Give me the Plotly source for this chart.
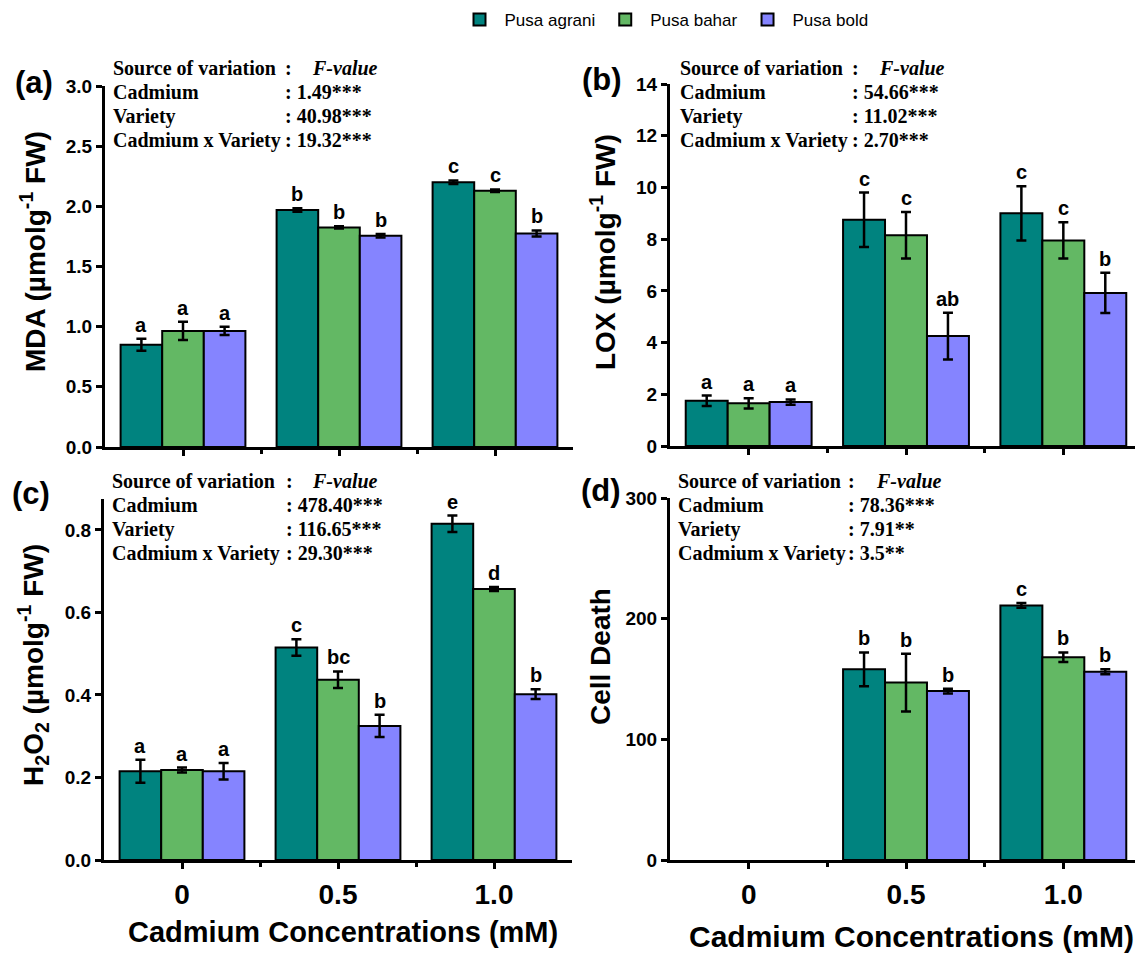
import plotly.graph_objects as go

W, H = 1143, 957

varieties = ["Pusa agrani", "Pusa bahar", "Pusa bold"]
colors = ["#00837F", "#63B864", "#8584FF"]
cd_labels = ["0", "0.5", "1.0"]
cd_pos = [0, 1, 2]

# Panel (a) MDA
mda = [[0.85, 1.97, 2.20], [0.965, 1.825, 2.13], [0.965, 1.755, 1.775]]
mda_err = [[0.05, 0.015, 0.015], [0.075, 0.01, 0.01], [0.035, 0.015, 0.025]]
mda_let = [["a", "b", "c"], ["a", "b", "c"], ["a", "b", "b"]]
# Panel (b) LOX
lox = [[1.75, 8.75, 9.0], [1.65, 8.15, 7.95], [1.7, 4.25, 5.92]]
lox_err = [[0.2, 1.05, 1.05], [0.2, 0.9, 0.7], [0.1, 0.9, 0.78]]
lox_let = [["a", "c", "c"], ["a", "c", "c"], ["a", "ab", "b"]]
# Panel (c) H2O2
h2o2 = [[0.215, 0.515, 0.815], [0.218, 0.437, 0.657], [0.215, 0.325, 0.402]]
h2o2_err = [[0.028, 0.02, 0.02], [0.006, 0.02, 0.005], [0.02, 0.027, 0.012]]
h2o2_let = [["a", "c", "e"], ["a", "bc", "d"], ["a", "b", "b"]]
# Panel (d) Cell death
cell = [[None, 158, 211], [None, 147, 168], [None, 140, 156]]
cell_err = [[None, 14, 2], [None, 24, 4], [None, 2, 2]]
cell_let = [["", "b", "c"], ["", "b", "b"], ["", "b", "b"]]

sources = ["Source of variation", "Cadmium", "Variety", "Cadmium x Variety"]
fvals_a = ["1.49***", "40.98***", "19.32***"]
fvals_b = ["54.66***", "11.02***", "2.70***"]
fvals_c = ["478.40***", "116.65***", "29.30***"]
fvals_d = ["78.36***", "7.91**", "3.5**"]

y_titles = ["MDA (µmolg<sup>-1</sup> FW)", "LOX (µmolg<sup>-1</sup> FW)",
            "H<sub>2</sub>O<sub>2</sub> (µmolg<sup>-1</sup> FW)", "Cell Death"]
panel_tags = ["(a)", "(b)", "(c)", "(d)"]
x_title = "Cadmium Concentrations (mM)"

SANS = "Arial, Liberation Sans, sans-serif"
SERIF = "Times New Roman, Liberation Serif, serif"

OFF = 8  # page body margin

def px(x):
    return (x - OFF) / W

def py(y):
    return 1 - (y - OFF) / H

panels = [
    dict(vals=mda, err=mda_err, let=mda_let, f=fvals_a, xd=(105, 573), yd=(86, 447),
         rng=[0, 3.0], dt=0.5, fmt=".1f", lab=False,
         txt=(111, 283, 310, 68), tag=(34, 83), yt=(33, 252), xt=None),
    dict(vals=lox, err=lox_err, let=lox_let, f=fvals_b, xd=(670, 1142), yd=(84, 446),
         rng=[0, 14], dt=2, fmt="d", lab=False,
         txt=(678, 850, 877, 68), tag=(602, 80), yt=(603, 252), xt=None),
    dict(vals=h2o2, err=h2o2_err, let=h2o2_let, f=fvals_c, xd=(104, 572), yd=(499, 860),
         rng=[0, 0.875], dt=0.2, fmt=".1f", lab=True,
         txt=(110, 284, 310, 481), tag=(31, 493), yt=(33, 665), xt=(343, 932, 29)),
    dict(vals=cell, err=cell_err, let=cell_let, f=fvals_d, xd=(670, 1142), yd=(498, 860),
         rng=[0, 300], dt=100, fmt="d", lab=True,
         txt=(676, 846, 874, 481), tag=(601, 490), yt=(600, 657), xt=(911, 936, 30)),
]

fig = go.Figure()
annotations = []
layout = {}
nvar = len(varieties)
bw = 0.8 / nvar

for k, p in enumerate(panels):
    sfx = "" if k == 0 else str(k + 1)
    xa, ya = "x" + sfx, "y" + sfx
    for j in range(nvar):
        fig.add_trace(go.Bar(
            x=cd_pos, y=p["vals"][j], name=varieties[j],
            marker=dict(color=colors[j], line=dict(color="black", width=2)),
            error_y=dict(type="data", array=p["err"][j], color="black", thickness=2.5, width=5),
            xaxis=xa, yaxis=ya, offsetgroup=str(j), legendgroup=varieties[j],
            showlegend=(k == 0),
        ))
        for i in range(len(cd_pos)):
            v = p["vals"][j][i]
            if v is None or not p["let"][j][i]:
                continue
            annotations.append(dict(
                x=cd_pos[i] + (j - (nvar - 1) / 2) * bw, y=v + p["err"][j][i],
                xref=xa, yref=ya, text="<b>%s</b>" % p["let"][j][i], showarrow=False,
                yanchor="bottom", yshift=1, font=dict(family=SANS, size=20, color="black")))
    axis_common = dict(showline=True, linecolor="black", linewidth=3, ticks="outside",
                       ticklen=6, tickwidth=2.5, tickcolor="black", showgrid=False,
                       zeroline=False, automargin=False)
    layout["xaxis" + sfx] = dict(
        domain=[px(p["xd"][0]), px(p["xd"][1])], anchor=ya, range=[-0.5, 2.5],
        tickmode="array", tickvals=cd_pos, ticktext=["<b>%s</b>" % t for t in cd_labels],
        showticklabels=p["lab"], ticklabelstandoff=1,
        tickfont=dict(family=SANS, size=28, color="black"),
        minor=dict(tickmode="array", tickvals=[0.5, 1.5], ticks="outside", ticklen=4,
                   tickwidth=2.5, tickcolor="black"),
        **axis_common)
    layout["yaxis" + sfx] = dict(
        domain=[py(p["yd"][1]), py(p["yd"][0])], anchor=xa, range=p["rng"],
        dtick=p["dt"], tick0=0, tickformat=p["fmt"],
        tickprefix="<b>", ticksuffix="</b>",
        tickfont=dict(family=SANS, size=19, color="black"),
        **axis_common)

    lx, cx, fx, ty = p["txt"]
    for r, s in enumerate(sources):
        yy = py(ty + 24 * r)
        annotations.append(dict(x=px(lx), y=yy, xref="paper", yref="paper", text="<b>%s</b>" % s,
                                showarrow=False, xanchor="left", yanchor="middle",
                                font=dict(family=SERIF, size=20, color="black")))
        if r == 0:
            annotations.append(dict(x=px(cx), y=yy, xref="paper", yref="paper", text="<b>:</b>",
                                    showarrow=False, xanchor="left", yanchor="middle",
                                    font=dict(family=SERIF, size=20, color="black")))
            annotations.append(dict(x=px(fx), y=yy, xref="paper", yref="paper",
                                    text="<b><i>F-value</i></b>",
                                    showarrow=False, xanchor="left", yanchor="middle",
                                    font=dict(family=SERIF, size=20, color="black")))
        else:
            annotations.append(dict(x=px(cx), y=yy, xref="paper", yref="paper",
                                    text="<b>: %s</b>" % p["f"][r - 1],
                                    showarrow=False, xanchor="left", yanchor="middle",
                                    font=dict(family=SERIF, size=20, color="black")))
    annotations.append(dict(x=px(p["tag"][0]), y=py(p["tag"][1]), xref="paper", yref="paper",
                            text="<b>%s</b>" % panel_tags[k], showarrow=False,
                            xanchor="center", yanchor="middle",
                            font=dict(family=SANS, size=31, color="black")))
    annotations.append(dict(x=px(p["yt"][0]), y=py(p["yt"][1]), xref="paper", yref="paper",
                            text="<b>%s</b>" % y_titles[k], showarrow=False, textangle=-90,
                            xanchor="center", yanchor="middle",
                            font=dict(family=SANS, size=28, color="black")))
    if p["xt"]:
        annotations.append(dict(x=px(p["xt"][0]), y=py(p["xt"][1]), xref="paper", yref="paper",
                                text="<b>%s</b>" % x_title, showarrow=False,
                                xanchor="center", yanchor="middle",
                                font=dict(family=SANS, size=p["xt"][2], color="black")))

fig.update_layout(
    width=W, height=H, margin=dict(l=0, r=0, t=0, b=0, autoexpand=False),
    paper_bgcolor="white", plot_bgcolor="white",
    barmode="group", bargap=0.2, bargroupgap=0,
    showlegend=True,
    legend=dict(orientation="h", x=px(664), xanchor="center", y=py(20), yanchor="middle",
                font=dict(family=SANS, size=17, color="black"), itemwidth=40,
                bgcolor="rgba(0,0,0,0)"),
    annotations=annotations,
    **layout,
)

fig.write_html("out.html")
